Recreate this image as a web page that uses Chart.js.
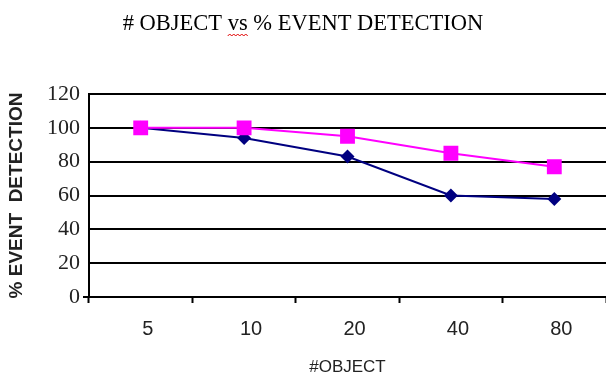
<!DOCTYPE html>
<html>
<head>
<meta charset="utf-8">
<script src="https://cdn.jsdelivr.net/npm/chart.js@4"></script>
<style>
  html, body { margin: 0; padding: 0; background: #fff; }
  #wrap { width: 606px; height: 378px; }
</style>
</head>
<body>
<div id="wrap"><canvas id="chart" width="606" height="378"></canvas></div>
<script>
// values
const objectCounts = ['5', '10', '20', '40', '80'];
const seriesNavy = [100, 94, 83, 60, 58];
const seriesPink = [100, 100, 95, 85, 77];
const yTicks = [0, 20, 40, 60, 80, 100, 120];

const titleText = '# OBJECT vs % EVENT DETECTION';
const titleSize = 22.5;
const titleFont = titleSize + 'px "Liberation Serif", "Times New Roman", serif';

// red spell-check squiggle under "vs", like in the original screenshot
const squiggle = {
    id: 'squiggle',
    afterDraw(chart) {
        const tb = chart.titleBlock;
        if (!tb) return;
        const ctx = chart.ctx;
        ctx.save();
        ctx.font = titleFont;
        const full = ctx.measureText(titleText).width;
        const start = (tb.left + tb.right) / 2 - full / 2;
        const x0 = start + ctx.measureText('# OBJECT ').width;
        const x1 = x0 + ctx.measureText('vs').width;
        const y = 36;
        ctx.strokeStyle = '#e00000';
        ctx.lineWidth = 1;
        ctx.beginPath();
        ctx.moveTo(x0, y);
        let up = true;
        for (let x = x0 + 2; x <= x1 + 1; x += 2) {
            ctx.lineTo(x, up ? y - 2 : y);
            up = !up;
        }
        ctx.stroke();
        ctx.restore();
    }
};

new Chart(document.getElementById('chart').getContext('2d'), {
    type: 'line',
    data: {
        labels: objectCounts,
        datasets: [
            {
                label: 'navy',
                data: seriesNavy,
                borderColor: '#000080',
                backgroundColor: '#000080',
                borderWidth: 2,
                pointStyle: 'rectRot',
                pointRadius: 7,
                pointBorderWidth: 0,
                order: 2
            },
            {
                label: 'pink',
                data: seriesPink,
                borderColor: '#ff00ff',
                backgroundColor: '#ff00ff',
                borderWidth: 2,
                pointStyle: 'rect',
                pointRadius: 10.5,
                pointBorderWidth: 0,
                order: 1
            }
        ]
    },
    options: {
        responsive: false,
        animation: false,
        layout: { autoPadding: false, padding: { left: 0, right: 0, top: 0, bottom: 0 } },
        plugins: {
            legend: { display: false },
            tooltip: { enabled: false },
            title: {
                display: true,
                text: titleText,
                color: '#000',
                font: { family: '"Liberation Serif", "Times New Roman", serif', size: titleSize, weight: 'normal', lineHeight: 1.2 },
                padding: { top: 10.5, bottom: 56.5 }
            }
        },
        scales: {
            x: {
                type: 'category',
                offset: true,
                afterFit(scale) {
                    scale.height = 81;
                    scale.paddingLeft = 0;
                    scale.paddingRight = 0;
                },
                border: { display: true, color: '#000', width: 2 },
                grid: {
                    offset: true,
                    drawOnChartArea: false,
                    drawTicks: true,
                    tickLength: 6,
                    tickWidth: 2,
                    tickColor: '#000'
                },
                ticks: {
                    color: '#222',
                    padding: 14,
                    labelOffset: 7,
                    maxRotation: 0,
                    font: { family: '"Liberation Sans", Arial, sans-serif', size: 20 }
                },
                title: {
                    display: true,
                    text: '#OBJECT',
                    color: '#222',
                    font: { family: '"Liberation Sans", Arial, sans-serif', size: 17, lineHeight: 1.2 },
                    padding: { top: 0, bottom: 0 }
                }
            },
            y: {
                min: 0,
                max: 120,
                afterFit(scale) { scale.width = 89; },
                afterBuildTicks(scale) { scale.ticks = yTicks.map(v => ({ value: v })); },
                border: { display: true, color: '#000', width: 2 },
                grid: {
                    color: '#000',
                    lineWidth: 2,
                    drawTicks: true,
                    tickLength: 6,
                    tickWidth: 2,
                    tickColor: ctx => (ctx.tick && ctx.tick.value === 0 ? '#000' : 'rgba(0,0,0,0)')
                },
                ticks: {
                    color: '#222',
                    padding: 3,
                    font: { family: '"Liberation Serif", "Times New Roman", serif', size: 22 }
                },
                title: {
                    display: true,
                    text: '% EVENT  DETECTION',
                    color: '#222',
                    font: { family: '"Liberation Sans", Arial, sans-serif', size: 19, weight: 'bold', lineHeight: 1.2 },
                    padding: { top: 5, bottom: 0 }
                }
            }
        }
    },
    plugins: [squiggle]
});
</script>
</body>
</html>
